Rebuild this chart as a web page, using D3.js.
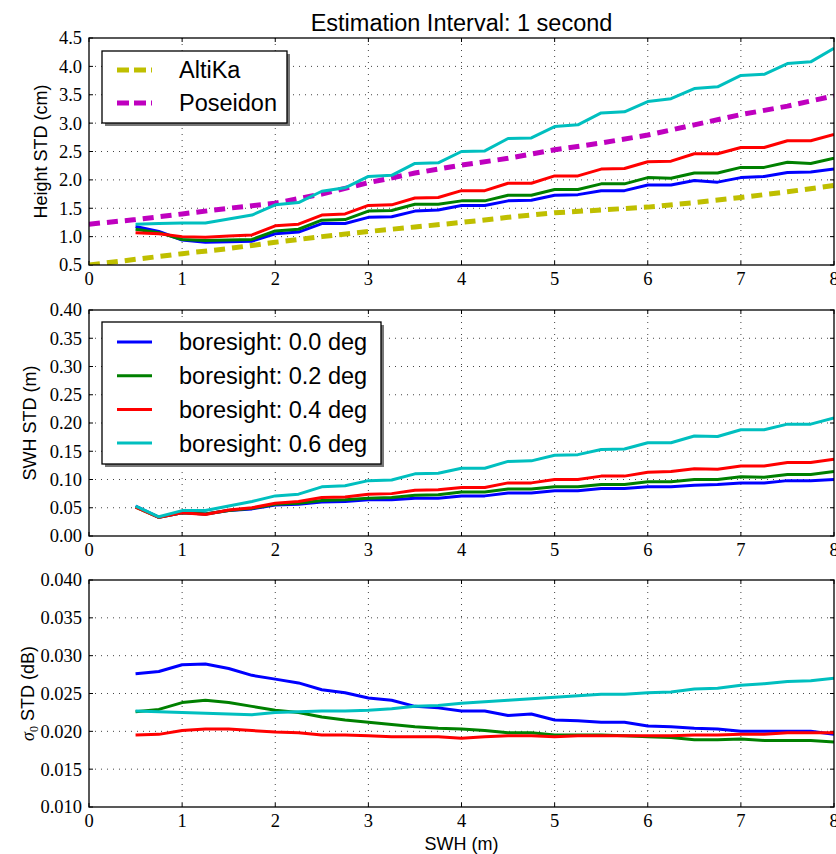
<!DOCTYPE html>
<html>
<head>
<meta charset="utf-8">
<script src="https://d3js.org/d3.v7.min.js"></script>
<title>Estimation Interval: 1 second</title>
<style>
body { margin: 0; background: #fff; }
</style>
</head>
<body>
<script>

// SWH sample points of the simulated curves (m)
var swh = [0.5, 0.75, 1.0, 1.25, 1.5, 1.75, 2.0, 2.25, 2.5, 2.75, 3.0, 3.25, 3.5, 3.75,
           4.0, 4.25, 4.5, 4.75, 5.0, 5.25, 5.5, 5.75, 6.0, 6.25, 6.5, 6.75, 7.0, 7.25, 7.5, 7.75, 8.0];
// SWH points of the reference missions
var swhRef = [0, 0.5, 1, 1.5, 2, 2.5, 3, 3.5, 4, 4.5, 5, 5.5, 6, 6.5, 7, 7.5, 8];

var boresightNames = ["boresight: 0.0 deg", "boresight: 0.2 deg", "boresight: 0.4 deg", "boresight: 0.6 deg"];
var missionNames = ["AltiKa", "Poseidon"];

// Height STD (cm)
var altika   = [0.50, 0.60, 0.70, 0.79, 0.90, 1.00, 1.09, 1.17, 1.25, 1.34, 1.42, 1.47, 1.52, 1.60, 1.69, 1.79, 1.90];
var poseidon = [1.22, 1.30, 1.40, 1.50, 1.59, 1.75, 1.95, 2.12, 2.26, 2.38, 2.53, 2.65, 2.79, 2.97, 3.15, 3.30, 3.48];
var heightB00 = [1.18, 1.09, 0.94, 0.90, 0.91, 0.92, 1.05, 1.08, 1.23, 1.23, 1.34, 1.35, 1.45, 1.47,
                 1.55, 1.55, 1.63, 1.64, 1.73, 1.74, 1.81, 1.81, 1.91, 1.91, 1.99, 1.96, 2.04, 2.06, 2.13, 2.14, 2.19];
var heightB02 = [1.13, 1.07, 0.95, 0.93, 0.94, 0.95, 1.10, 1.13, 1.29, 1.30, 1.45, 1.46, 1.57, 1.57,
                 1.63, 1.63, 1.73, 1.73, 1.83, 1.83, 1.93, 1.93, 2.04, 2.03, 2.12, 2.12, 2.22, 2.22, 2.31, 2.29, 2.38];
var heightB04 = [1.07, 1.05, 1.00, 0.99, 1.01, 1.03, 1.19, 1.22, 1.38, 1.40, 1.55, 1.56, 1.68, 1.69,
                 1.81, 1.81, 1.94, 1.94, 2.07, 2.07, 2.19, 2.20, 2.32, 2.33, 2.46, 2.46, 2.57, 2.57, 2.69, 2.69, 2.80];
var heightB06 = [1.22, 1.23, 1.24, 1.24, 1.31, 1.38, 1.56, 1.60, 1.80, 1.86, 2.06, 2.08, 2.29, 2.30,
                 2.50, 2.51, 2.73, 2.74, 2.94, 2.97, 3.18, 3.20, 3.38, 3.43, 3.61, 3.64, 3.84, 3.86, 4.05, 4.08, 4.32];

// SWH STD (m)
var swhB00 = [0.053, 0.033, 0.041, 0.039, 0.045, 0.048, 0.055, 0.056, 0.060, 0.061, 0.064, 0.064, 0.067, 0.067,
              0.071, 0.071, 0.076, 0.076, 0.080, 0.080, 0.084, 0.084, 0.087, 0.087, 0.090, 0.091, 0.094, 0.094, 0.098, 0.098, 0.100];
var swhB02 = [0.051, 0.033, 0.041, 0.039, 0.045, 0.049, 0.056, 0.058, 0.063, 0.064, 0.067, 0.068, 0.072, 0.073,
              0.078, 0.078, 0.083, 0.083, 0.087, 0.087, 0.091, 0.091, 0.096, 0.096, 0.100, 0.100, 0.105, 0.104, 0.109, 0.109, 0.114];
var swhB04 = [0.051, 0.033, 0.041, 0.038, 0.046, 0.050, 0.058, 0.061, 0.068, 0.069, 0.074, 0.075, 0.081, 0.082,
              0.086, 0.086, 0.094, 0.094, 0.100, 0.100, 0.106, 0.106, 0.113, 0.114, 0.119, 0.118, 0.124, 0.124, 0.130, 0.130, 0.136];
var swhB06 = [0.053, 0.034, 0.045, 0.045, 0.053, 0.061, 0.071, 0.074, 0.087, 0.089, 0.098, 0.099, 0.110, 0.111,
              0.120, 0.120, 0.132, 0.133, 0.143, 0.144, 0.153, 0.154, 0.165, 0.165, 0.177, 0.176, 0.188, 0.188, 0.198, 0.198, 0.209];

// sigma0 STD (dB)
var sigB00 = [0.0276, 0.0279, 0.0288, 0.0289, 0.0283, 0.0274, 0.0269, 0.0264, 0.0255, 0.0251, 0.0244, 0.0241, 0.0233, 0.0231,
              0.0227, 0.0227, 0.0221, 0.0223, 0.0215, 0.0214, 0.0212, 0.0212, 0.0207, 0.0206, 0.0204, 0.0203, 0.0200, 0.0200, 0.0200, 0.0200, 0.0196];
var sigB02 = [0.0226, 0.0229, 0.0238, 0.0241, 0.0238, 0.0233, 0.0228, 0.0225, 0.0219, 0.0215, 0.0212, 0.0209, 0.0206, 0.0204,
              0.0203, 0.0201, 0.0198, 0.0198, 0.0195, 0.0195, 0.0195, 0.0194, 0.0193, 0.0192, 0.0189, 0.0189, 0.0190, 0.0188, 0.0188, 0.0188, 0.0186];
var sigB04 = [0.0195, 0.0196, 0.0201, 0.0203, 0.0203, 0.0201, 0.0199, 0.0198, 0.0195, 0.0195, 0.0194, 0.0193, 0.0193, 0.0193,
              0.0191, 0.0193, 0.0194, 0.0194, 0.0193, 0.0194, 0.0194, 0.0194, 0.0194, 0.0194, 0.0195, 0.0195, 0.0196, 0.0196, 0.0198, 0.0198, 0.0198];
var sigB06 = [0.0227, 0.0226, 0.0225, 0.0224, 0.0223, 0.0222, 0.0225, 0.0226, 0.0227, 0.0227, 0.0228, 0.0230, 0.0233, 0.0234,
              0.0237, 0.0239, 0.0241, 0.0243, 0.0245, 0.0247, 0.0249, 0.0249, 0.0251, 0.0252, 0.0256, 0.0257, 0.0261, 0.0263, 0.0266, 0.0267, 0.0270];

var xTicks = [0, 1, 2, 3, 4, 5, 6, 7, 8];
var heightTicks = [0.5, 1.0, 1.5, 2.0, 2.5, 3.0, 3.5, 4.0, 4.5];
var swhTicks = [0.00, 0.05, 0.10, 0.15, 0.20, 0.25, 0.30, 0.35, 0.40];
var sigTicks = [0.010, 0.015, 0.020, 0.025, 0.030, 0.035, 0.040];

var colB = ["#0000ff", "#008000", "#ff0000", "#00bfbf"];
var colRef = ["#bfbf00", "#bf00bf"];

var width = 836,
    height = 854;

var svg = d3.select("body")
  .append("svg")
  .attr("width", width)
  .attr("height", height);

var x = d3.scaleLinear().domain([0, 8]).range([89, 834]);

var serif = "'Liberation Serif', 'Times New Roman', serif";
var sans = "'Liberation Sans', Arial, sans-serif";

function drawPanel(p, i) {
  var y = d3.scaleLinear().domain([p.ticks[0], p.ticks[p.ticks.length - 1]]).range([p.bottom, p.top]);
  var g = svg.append("g");

  g.append("clipPath").attr("id", "clip" + i)
    .append("rect")
    .attr("x", x(0)).attr("y", p.top)
    .attr("width", x(8) - x(0)).attr("height", p.bottom - p.top);

  // dotted grid
  g.selectAll(".gx").data(xTicks.slice(1, -1)).enter().append("line")
    .attr("x1", function(d) { return x(d); }).attr("x2", function(d) { return x(d); })
    .attr("y1", p.top).attr("y2", p.bottom)
    .attr("stroke", "#444").attr("stroke-width", 1).attr("stroke-dasharray", "1,5");
  g.selectAll(".gy").data(p.ticks.slice(1, -1)).enter().append("line")
    .attr("y1", function(d) { return y(d); }).attr("y2", function(d) { return y(d); })
    .attr("x1", x(0)).attr("x2", x(8))
    .attr("stroke", "#444").attr("stroke-width", 1).attr("stroke-dasharray", "1,5");

  // inward ticks on all sides
  xTicks.forEach(function(t) {
    g.append("line").attr("x1", x(t)).attr("x2", x(t)).attr("y1", p.bottom).attr("y2", p.bottom - 4).attr("stroke", "#000");
    g.append("line").attr("x1", x(t)).attr("x2", x(t)).attr("y1", p.top).attr("y2", p.top + 4).attr("stroke", "#000");
  });
  p.ticks.forEach(function(t) {
    g.append("line").attr("y1", y(t)).attr("y2", y(t)).attr("x1", x(0)).attr("x2", x(0) + 4).attr("stroke", "#000");
    g.append("line").attr("y1", y(t)).attr("y2", y(t)).attr("x1", x(8)).attr("x2", x(8) - 4).attr("stroke", "#000");
  });

  // data lines
  var lines = g.append("g").attr("clip-path", "url(#clip" + i + ")");
  p.series.forEach(function(s) {
    var line = d3.line()
      .x(function(d, k) { return x(s.xs[k]); })
      .y(function(d) { return y(d); });
    lines.append("path")
      .attr("d", line(s.values))
      .attr("fill", "none")
      .attr("stroke", s.color)
      .attr("stroke-width", s.dash ? 5 : 3)
      .attr("stroke-dasharray", s.dash ? "11,7" : null)
      .attr("stroke-linejoin", "round");
  });

  // frame
  g.append("rect")
    .attr("x", x(0)).attr("y", p.top)
    .attr("width", x(8) - x(0)).attr("height", p.bottom - p.top)
    .attr("fill", "none").attr("stroke", "#000").attr("stroke-width", 1.3);

  // tick labels
  g.selectAll(".xl").data(xTicks).enter().append("text")
    .attr("x", function(d) { return x(d); })
    .attr("y", p.bottom + 20)
    .attr("text-anchor", "middle")
    .attr("font-family", serif).attr("font-size", 18.5)
    .text(function(d) { return d; });
  g.selectAll(".yl").data(p.ticks).enter().append("text")
    .attr("x", 82)
    .attr("y", function(d) { return y(d); })
    .attr("dy", "0.35em")
    .attr("text-anchor", "end")
    .attr("font-family", serif).attr("font-size", 18.5)
    .text(function(d) { return d3.format(p.fmt)(d); });

  // y label
  var lab = g.append("text")
    .attr("transform", "translate(" + p.labelX + "," + ((p.top + p.bottom) / 2) + ") rotate(-90)")
    .attr("text-anchor", "middle")
    .attr("font-family", sans).attr("font-size", 18);
  if (p.sigma) {
    lab.append("tspan").attr("font-family", serif).attr("font-style", "italic").text("σ");
    lab.append("tspan").attr("font-family", serif).attr("font-size", 12).attr("dy", 4).text("0");
    lab.append("tspan").attr("dy", -4).text(" STD (dB)");
  } else {
    lab.text(p.label);
  }

  // legend
  if (p.legend) {
    var L = p.legend;
    g.append("rect").attr("x", L.x + 3).attr("y", L.y + 3).attr("width", L.w).attr("height", L.h).attr("fill", "#777");
    g.append("rect").attr("x", L.x).attr("y", L.y).attr("width", L.w).attr("height", L.h)
      .attr("fill", "#fff").attr("stroke", "#000").attr("stroke-width", 1.3);
    L.names.forEach(function(n, k) {
      var cy = L.y + L.first + k * L.step;
      g.append("line").attr("x1", L.x + 15).attr("x2", L.x + 50).attr("y1", cy).attr("y2", cy)
        .attr("stroke", L.colors[k])
        .attr("stroke-width", L.dash ? 5 : 3)
        .attr("stroke-dasharray", L.dash ? "12,5" : null);
      g.append("text").attr("x", L.x + 77).attr("y", cy).attr("dy", "0.36em")
        .attr("font-family", sans).attr("font-size", 23.5)
        .text(n);
    });
  }
}

var panels = [
  { top: 38, bottom: 265, ticks: heightTicks, fmt: ".1f", label: "Height STD (cm)", labelX: 47,
    series: [
      { xs: swhRef, values: altika, color: colRef[0], dash: true },
      { xs: swhRef, values: poseidon, color: colRef[1], dash: true },
      { xs: swh, values: heightB00, color: colB[0] },
      { xs: swh, values: heightB02, color: colB[1] },
      { xs: swh, values: heightB04, color: colB[2] },
      { xs: swh, values: heightB06, color: colB[3] }
    ],
    legend: { x: 102, y: 51, w: 185, h: 72, first: 19, step: 33, names: missionNames, colors: colRef, dash: true } },
  { top: 310, bottom: 536, ticks: swhTicks, fmt: ".2f", label: "SWH STD (m)", labelX: 36,
    series: [
      { xs: swh, values: swhB00, color: colB[0] },
      { xs: swh, values: swhB02, color: colB[1] },
      { xs: swh, values: swhB04, color: colB[2] },
      { xs: swh, values: swhB06, color: colB[3] }
    ],
    legend: { x: 102, y: 322, w: 279, h: 142, first: 20, step: 33.7, names: boresightNames, colors: colB, dash: false } },
  { top: 580, bottom: 807, ticks: sigTicks, fmt: ".3f", sigma: true, labelX: 34,
    series: [
      { xs: swh, values: sigB00, color: colB[0] },
      { xs: swh, values: sigB02, color: colB[1] },
      { xs: swh, values: sigB04, color: colB[2] },
      { xs: swh, values: sigB06, color: colB[3] }
    ] }
];

panels.forEach(drawPanel);

svg.append("text")
  .attr("x", (x(0) + x(8)) / 2).attr("y", 31)
  .attr("text-anchor", "middle")
  .attr("font-family", sans).attr("font-size", 23.5)
  .text("Estimation Interval: 1 second");

svg.append("text")
  .attr("x", (x(0) + x(8)) / 2).attr("y", 850)
  .attr("text-anchor", "middle")
  .attr("font-family", sans).attr("font-size", 18)
  .text("SWH (m)");

</script>
</body>
</html>
